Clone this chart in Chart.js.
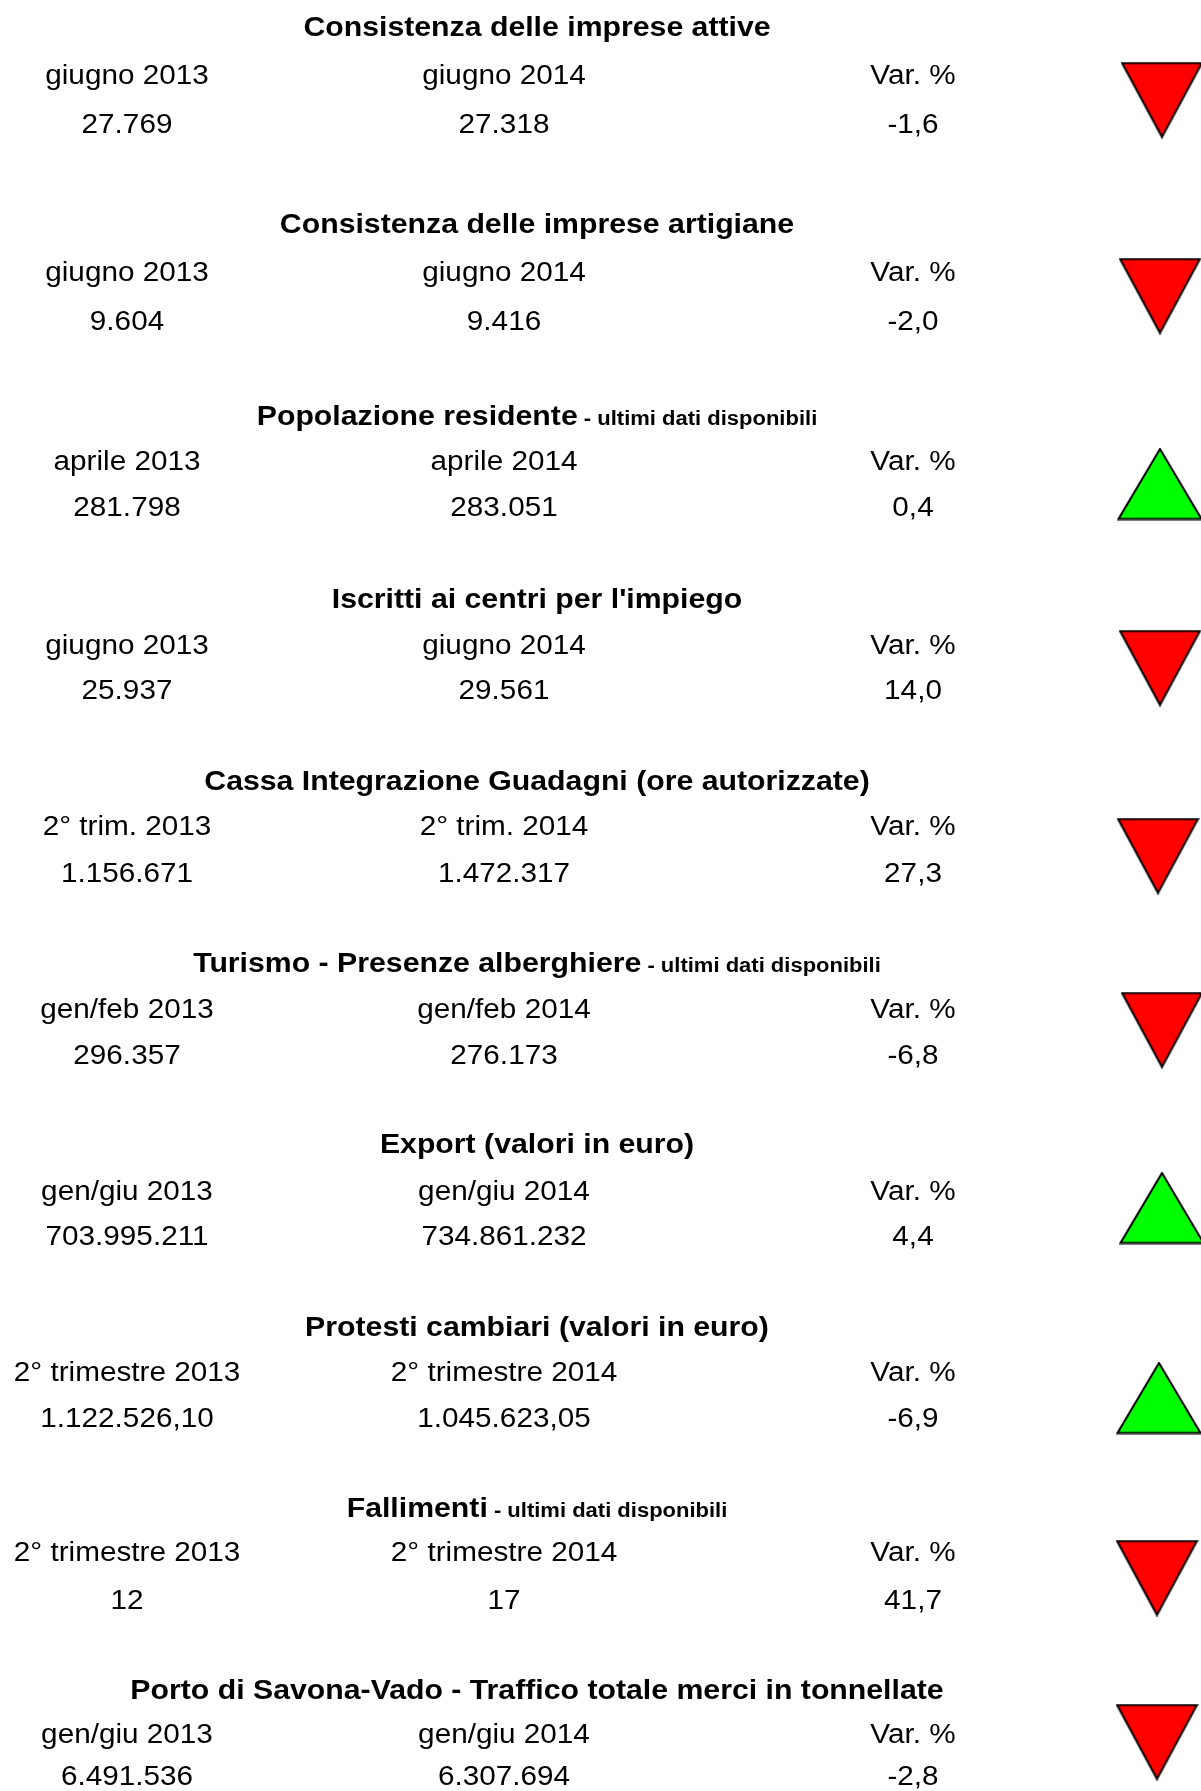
<!DOCTYPE html>
<html lang="it">
<head>
<meta charset="utf-8">
<title>Indicatori economici</title>
<script src="https://cdn.jsdelivr.net/npm/chart.js@4.4.1/dist/chart.umd.min.js"></script>
<style>
    html, body { margin: 0; padding: 0; background: #ffffff; overflow: hidden; }
    #wrap { position: relative; width: 1201px; height: 1791px; }
</style>
</head>
<body>
<div id="wrap"><canvas id="panel"></canvas></div>
<script>
// ============================================
// DATA
// ============================================
const sectionTitles = [
    'Consistenza delle imprese attive',
    'Consistenza delle imprese artigiane',
    'Popolazione residente',
    "Iscritti ai centri per l'impiego",
    'Cassa Integrazione Guadagni (ore autorizzate)',
    'Turismo - Presenze alberghiere',
    'Export (valori in euro)',
    'Protesti cambiari (valori in euro)',
    'Fallimenti',
    'Porto di Savona-Vado - Traffico totale merci in tonnellate'
];
const titleNotes = ['', '', ' - ultimi dati disponibili', '', '', ' - ultimi dati disponibili', '', '', ' - ultimi dati disponibili', ''];

const periodsPrev = ['giugno 2013', 'giugno 2013', 'aprile 2013', 'giugno 2013', '2° trim. 2013',
    'gen/feb 2013', 'gen/giu 2013', '2° trimestre 2013', '2° trimestre 2013', 'gen/giu 2013'];
const periodsCurr = ['giugno 2014', 'giugno 2014', 'aprile 2014', 'giugno 2014', '2° trim. 2014',
    'gen/feb 2014', 'gen/giu 2014', '2° trimestre 2014', '2° trimestre 2014', 'gen/giu 2014'];

const valuesPrev = [27769, 9604, 281798, 25937, 1156671, 296357, 703995211, 1122526.10, 12, 6491536];
const valuesCurr = [27318, 9416, 283051, 29561, 1472317, 276173, 734861232, 1045623.05, 17, 6307694];
const valueDecimals = [0, 0, 0, 0, 0, 0, 0, 2, 0, 0];
const variations = [-1.6, -2.0, 0.4, 14.0, 27.3, -6.8, 4.4, -6.9, 41.7, -2.8];

// 1 = andamento favorevole (triangolo verde), -1 = sfavorevole (triangolo rosso)
const trend = [-1, -1, 1, -1, -1, -1, 1, 1, -1, -1];

// ============================================
// LAYOUT (pixel positions on the page)
// ============================================
const colX = [127, 504, 913];
const titleX = 537;
const titleBase = [36, 233, 425, 608, 790, 972, 1153, 1336, 1517, 1699];
const labelBase = [84, 281, 470, 654, 835, 1018, 1200, 1381, 1561, 1743];
const valueBase = [133, 330, 516, 699, 882, 1064, 1245, 1427, 1609, 1785];
const triX = [1162, 1160, 1160, 1160, 1158, 1162, 1162, 1159, 1157, 1157];
const triY = [100, 296, 484, 668, 856, 1030, 1208, 1398, 1578, 1742];

const FONT = "'Liberation Sans', Arial, Helvetica, sans-serif";

// Italian number format: 1.234.567,89
function fmtIt(n, dec) {
    const parts = Math.abs(n).toFixed(dec).split('.');
    const int = parts[0].replace(/\B(?=(\d{3})+(?!\d))/g, '.');
    return (n < 0 ? '-' : '') + int + (parts[1] ? ',' + parts[1] : '');
}

// Triangle markers as point images
function makeTriangle(w, h, up, fill) {
    const c = document.createElement('canvas');
    c.width = w; c.height = h;
    const g = c.getContext('2d');
    g.beginPath();
    if (up) {
        g.moveTo(w / 2, 1.5); g.lineTo(w - 1.5, h - 1.5); g.lineTo(1.5, h - 1.5);
    } else {
        g.moveTo(1.5, 1.5); g.lineTo(w - 1.5, 1.5); g.lineTo(w / 2, h - 1.5);
    }
    g.closePath();
    g.fillStyle = fill;
    g.fill();
    g.lineWidth = 2;
    g.strokeStyle = '#000000';
    g.lineJoin = 'miter';
    g.stroke();
    return c;
}
const triUp = makeTriangle(86, 73, true, '#00ff00');
const triDown = makeTriangle(83, 77, false, '#ff0000');

// ============================================
// TEXT PLUGIN
// ============================================
function stretchText(ctx, text, x, y, sx, align) {
    ctx.save();
    ctx.translate(x, y);
    ctx.scale(sx, 1);
    ctx.textAlign = align;
    ctx.fillText(text, 0, 0);
    ctx.restore();
}

const tablePlugin = {
    id: 'tableText',
    afterDatasetsDraw(chart) {
        const ctx = chart.ctx;
        const xs = chart.scales.x;
        const ys = chart.scales.y;
        ctx.save();
        ctx.fillStyle = '#000000';
        ctx.textBaseline = 'alphabetic';

        sectionTitles.forEach((title, i) => {
            // title (+ optional small note), centred as one block
            const ty = ys.getPixelForValue(titleBase[i]);
            const bigFont = 'bold 28px ' + FONT;
            const smallFont = 'bold 20px ' + FONT;
            const sxB = 1.08, sxS = 1.1;
            ctx.font = bigFont;
            const wBig = ctx.measureText(title).width * sxB;
            ctx.font = smallFont;
            const wSmall = titleNotes[i] ? ctx.measureText(titleNotes[i]).width * sxS : 0;
            const left = xs.getPixelForValue(titleX) - (wBig + wSmall) / 2;
            ctx.font = bigFont;
            stretchText(ctx, title, left, ty, sxB, 'left');
            if (titleNotes[i]) {
                ctx.font = smallFont;
                stretchText(ctx, titleNotes[i], left + wBig, ty, sxS, 'left');
            }

            // period labels and values
            ctx.font = '27px ' + FONT;
            const ly = ys.getPixelForValue(labelBase[i]);
            const vy = ys.getPixelForValue(valueBase[i]);
            stretchText(ctx, periodsPrev[i], xs.getPixelForValue(colX[0]), ly, 1.1, 'center');
            stretchText(ctx, periodsCurr[i], xs.getPixelForValue(colX[1]), ly, 1.1, 'center');
            stretchText(ctx, 'Var. %', xs.getPixelForValue(colX[2]), ly, 1.1, 'center');
            stretchText(ctx, fmtIt(valuesPrev[i], valueDecimals[i]), xs.getPixelForValue(colX[0]), vy, 1.1, 'center');
            stretchText(ctx, fmtIt(valuesCurr[i], valueDecimals[i]), xs.getPixelForValue(colX[1]), vy, 1.1, 'center');
            stretchText(ctx, fmtIt(variations[i], 1), xs.getPixelForValue(colX[2]), vy, 1.1, 'center');
        });
        ctx.restore();
    }
};

// ============================================
// CHART
// ============================================
new Chart(document.getElementById('panel'), {
    type: 'scatter',
    data: {
        datasets: [{
            label: 'Andamento',
            data: trend.map((t, i) => ({ x: triX[i], y: triY[i] })),
            pointStyle: trend.map(t => (t > 0 ? triUp : triDown)),
            pointRadius: 40,
            pointHoverRadius: 40,
            showLine: false,
            clip: false
        }]
    },
    options: {
        responsive: true,
        maintainAspectRatio: false,
        animation: false,
        events: [],
        layout: { padding: 0, autoPadding: false },
        plugins: {
            legend: { display: false },
            tooltip: { enabled: false }
        },
        scales: {
            x: { type: 'linear', min: 0, max: 1201, display: false },
            y: { type: 'linear', min: 0, max: 1791, reverse: true, display: false }
        }
    },
    plugins: [tablePlugin]
});
</script>
</body>
</html>
